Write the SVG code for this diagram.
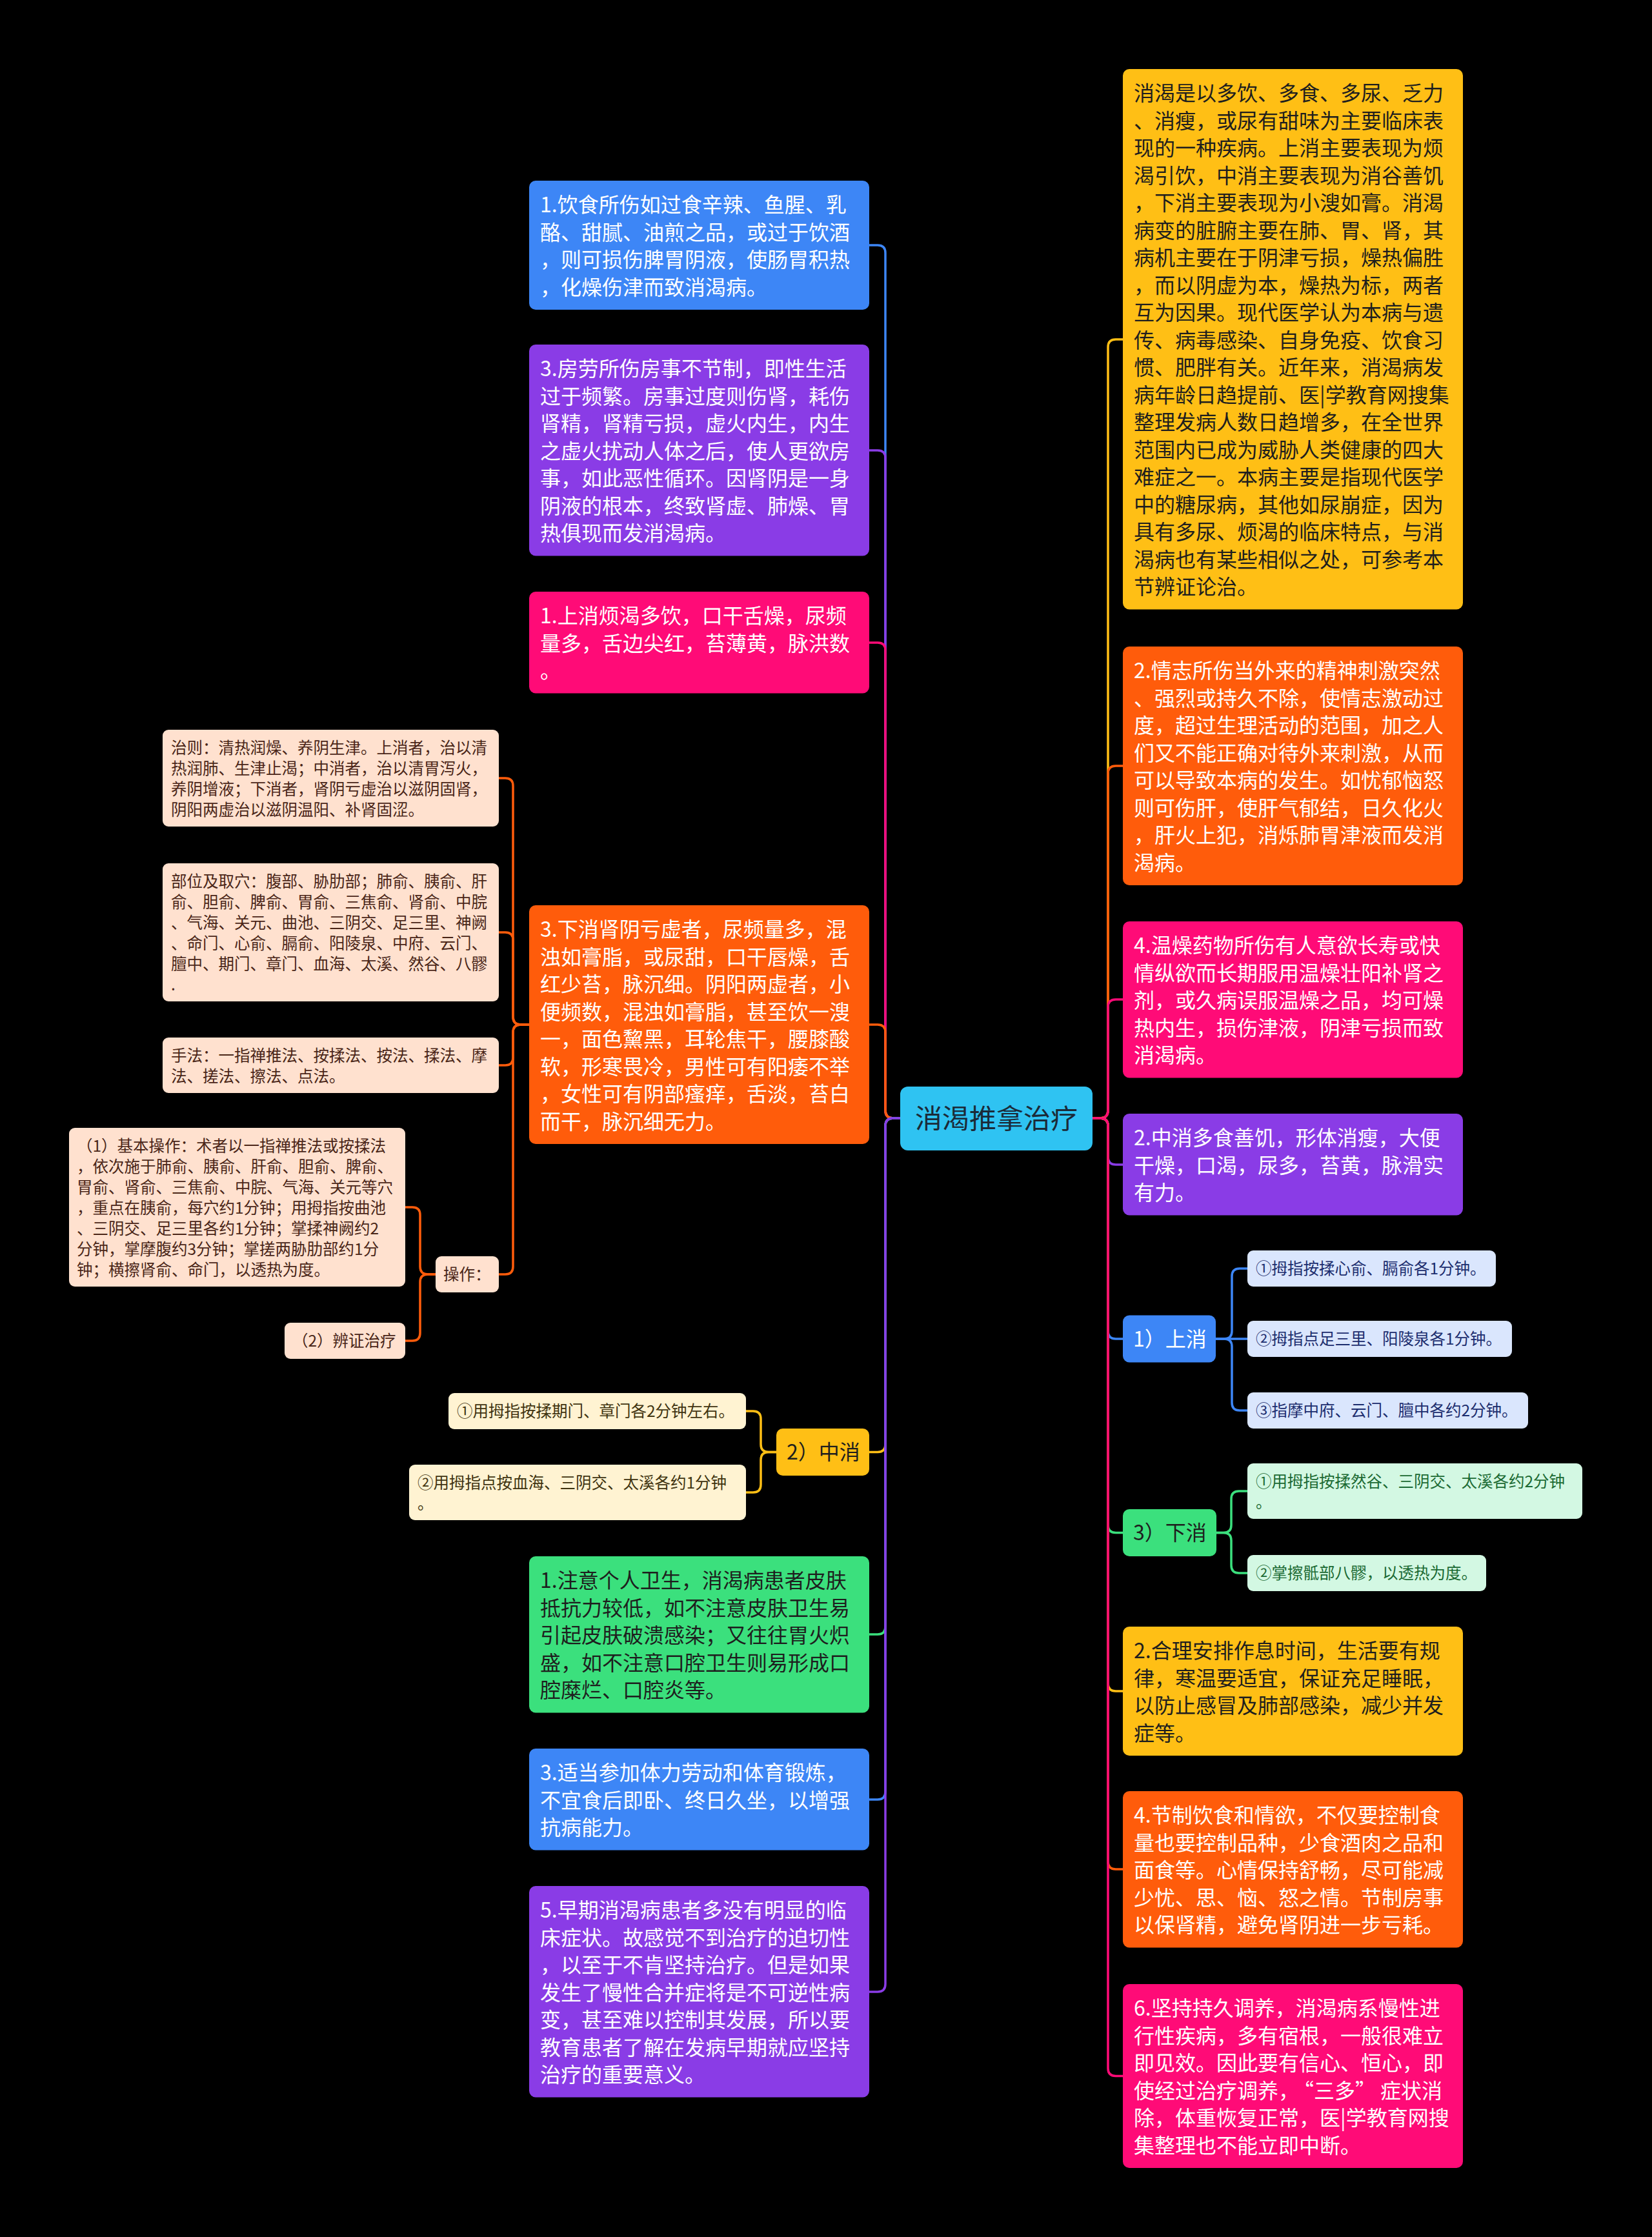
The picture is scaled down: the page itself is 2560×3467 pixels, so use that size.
<svg xmlns="http://www.w3.org/2000/svg" width="2560" height="3467" viewBox="0 0 2560 3467">
<style>
text{font-family:"Noto Sans CJK SC","Noto Sans",sans-serif}
.b{font-size:32px}
.s{font-size:24.5px}
.w{fill:#ffffff}
.d{fill:#1e1e1e}
.pk{fill:#4a2618}
.cr{fill:#3f3410}
.lb{fill:#1c2d6e}
.lg{fill:#1b6a33}
.c{fill:none;stroke-width:3.5;stroke-linecap:round;stroke-linejoin:round}
</style>
<rect width="2560" height="3467" fill="#000000"/>
<g id="connectors">
<path class="c" stroke="#3D86F6" d="M1395 1733H1384Q1372 1733 1372 1721V392Q1372 380 1360 380H1347"/>
<path class="c" stroke="#8A3CE6" d="M1395 1733H1384Q1372 1733 1372 1721V710Q1372 698 1360 698H1347"/>
<path class="c" stroke="#FF0B77" d="M1395 1733H1384Q1372 1733 1372 1721V1008Q1372 996 1360 996H1347"/>
<path class="c" stroke="#FF5C0B" d="M1395 1733H1384Q1372 1733 1372 1721V1600Q1372 1588 1360 1588H1347"/>
<path class="c" stroke="#FFBF15" d="M1395 1733H1384Q1372 1733 1372 1745V2238.5Q1372 2250.5 1360 2250.5H1347"/>
<path class="c" stroke="#3BE07D" d="M1395 1733H1384Q1372 1733 1372 1745V2521Q1372 2533 1360 2533H1347"/>
<path class="c" stroke="#3D86F6" d="M1395 1733H1384Q1372 1733 1372 1745V2777Q1372 2789 1360 2789H1347"/>
<path class="c" stroke="#8A3CE6" d="M1395 1733H1384Q1372 1733 1372 1745V3075Q1372 3087 1360 3087H1347"/>
<path class="c" stroke="#FFBF15" d="M1693 1733H1705Q1717 1733 1717 1721V538Q1717 526 1729 526H1740"/>
<path class="c" stroke="#FF5C0B" d="M1693 1733H1705Q1717 1733 1717 1721V1199Q1717 1187 1729 1187H1740"/>
<path class="c" stroke="#FF0B77" d="M1693 1733H1705Q1717 1733 1717 1721V1561Q1717 1549 1729 1549H1740"/>
<path class="c" stroke="#8A3CE6" d="M1693 1733H1705Q1717 1733 1717 1745V1793Q1717 1805 1729 1805H1740"/>
<path class="c" stroke="#3D86F6" d="M1693 1733H1705Q1717 1733 1717 1745V2063Q1717 2075 1729 2075H1740"/>
<path class="c" stroke="#3BE07D" d="M1693 1733H1705Q1717 1733 1717 1745V2363.5Q1717 2375.5 1729 2375.5H1740"/>
<path class="c" stroke="#FFBF15" d="M1693 1733H1705Q1717 1733 1717 1745V2609Q1717 2621 1729 2621H1740"/>
<path class="c" stroke="#FF5C0B" d="M1693 1733H1705Q1717 1733 1717 1745V2885Q1717 2897 1729 2897H1740"/>
<path class="c" stroke="#FF0B77" d="M1693 1733H1705Q1717 1733 1717 1745V3205.5Q1717 3217.5 1729 3217.5H1740"/>
<path class="c" stroke="#FF5C0B" d="M820 1588H807Q795 1588 795 1576V1218Q795 1206 783 1206H773"/>
<path class="c" stroke="#FF5C0B" d="M820 1588H807Q795 1588 795 1576V1457Q795 1445 783 1445H773"/>
<path class="c" stroke="#FF5C0B" d="M820 1588H807Q795 1588 795 1600V1639Q795 1651 783 1651H773"/>
<path class="c" stroke="#FF5C0B" d="M820 1588H807Q795 1588 795 1600V1963Q795 1975 783 1975H773"/>
<path class="c" stroke="#FF5C0B" d="M675 1975H663Q651 1975 651 1963V1883Q651 1871 639 1871H628"/>
<path class="c" stroke="#FF5C0B" d="M675 1975H663Q651 1975 651 1987V2066Q651 2078 639 2078H628"/>
<path class="c" stroke="#FFBF15" d="M1203 2250.5H1191Q1179 2250.5 1179 2238.5V2199Q1179 2187 1167 2187H1156"/>
<path class="c" stroke="#FFBF15" d="M1203 2250.5H1191Q1179 2250.5 1179 2262.5V2301Q1179 2313 1167 2313H1156"/>
<path class="c" stroke="#3D86F6" d="M1884 2075H1897Q1909 2075 1909 2063V1978Q1909 1966 1921 1966H1933"/>
<path class="c" stroke="#3D86F6" d="M1884 2075H1933"/>
<path class="c" stroke="#3D86F6" d="M1884 2075H1897Q1909 2075 1909 2087V2174Q1909 2186 1921 2186H1933"/>
<path class="c" stroke="#3BE07D" d="M1885 2375.5H1896Q1908 2375.5 1908 2363.5V2323Q1908 2311 1920 2311H1933"/>
<path class="c" stroke="#3BE07D" d="M1885 2375.5H1896Q1908 2375.5 1908 2387.5V2426Q1908 2438 1920 2438H1933"/>
</g>
<g id="root">
<rect x="1395" y="1684" width="298" height="99" rx="12" fill="#2FC3F2"/>
<text x="1544" y="1749" text-anchor="middle" font-size="42" fill="#1b2a38">消渴推拿治疗</text>
</g>
<g id="L1">
<rect x="820" y="280" width="527" height="200" rx="10" fill="#3D86F6"/>
<text class="b w" x="837" y="329"><tspan x="837">1.饮食所伤如过食辛辣、鱼腥、乳</tspan><tspan x="837" dy="42.5">酪、甜腻、油煎之品，或过于饮酒</tspan><tspan x="837" dy="42.5">，则可损伤脾胃阴液，使肠胃积热</tspan><tspan x="837" dy="42.5">，化燥伤津而致消渴病。</tspan></text>
</g>
<g id="L2">
<rect x="820" y="534" width="527" height="327.5" rx="10" fill="#8A3CE6"/>
<text class="b w" x="837" y="583"><tspan x="837">3.房劳所伤房事不节制，即性生活</tspan><tspan x="837" dy="42.5">过于频繁。房事过度则伤肾，耗伤</tspan><tspan x="837" dy="42.5">肾精，肾精亏损，虚火内生，内生</tspan><tspan x="837" dy="42.5">之虚火扰动人体之后，使人更欲房</tspan><tspan x="837" dy="42.5">事，如此恶性循环。因肾阴是一身</tspan><tspan x="837" dy="42.5">阴液的根本，终致肾虚、肺燥、胃</tspan><tspan x="837" dy="42.5">热俱现而发消渴病。</tspan></text>
</g>
<g id="L3">
<rect x="820" y="917" width="527" height="157.5" rx="10" fill="#FF0B77"/>
<text class="b w" x="837" y="966"><tspan x="837">1.上消烦渴多饮，口干舌燥，尿频</tspan><tspan x="837" dy="42.5">量多，舌边尖红，苔薄黄，脉洪数</tspan><tspan x="837" dy="42.5">。</tspan></text>
</g>
<g id="L4">
<rect x="820" y="1403" width="527" height="370" rx="10" fill="#FF5C0B"/>
<text class="b w" x="837" y="1452"><tspan x="837">3.下消肾阴亏虚者，尿频量多，混</tspan><tspan x="837" dy="42.5">浊如膏脂，或尿甜，口干唇燥，舌</tspan><tspan x="837" dy="42.5">红少苔，脉沉细。阴阳两虚者，小</tspan><tspan x="837" dy="42.5">便频数，混浊如膏脂，甚至饮一溲</tspan><tspan x="837" dy="42.5">一，面色黧黑，耳轮焦干，腰膝酸</tspan><tspan x="837" dy="42.5">软，形寒畏冷，男性可有阳痿不举</tspan><tspan x="837" dy="42.5">，女性可有阴部瘙痒，舌淡，苔白</tspan><tspan x="837" dy="42.5">而干，脉沉细无力。</tspan></text>
</g>
<g id="L4a">
<rect x="252" y="1131" width="521" height="150" rx="9" fill="#FFE1CF"/>
<text class="s pk" x="265" y="1168"><tspan x="265">治则：清热润燥、养阴生津。上消者，治以清</tspan><tspan x="265" dy="32">热润肺、生津止渴；中消者，治以清胃泻火，</tspan><tspan x="265" dy="32">养阴增液；下消者，肾阴亏虚治以滋阴固肾，</tspan><tspan x="265" dy="32">阴阳两虚治以滋阴温阳、补肾固涩。</tspan></text>
</g>
<g id="L4b">
<rect x="252" y="1338" width="521" height="214" rx="9" fill="#FFE1CF"/>
<text class="s pk" x="265" y="1375"><tspan x="265">部位及取穴：腹部、胁肋部；肺俞、胰俞、肝</tspan><tspan x="265" dy="32">俞、胆俞、脾俞、胃俞、三焦俞、肾俞、中脘</tspan><tspan x="265" dy="32">、气海、关元、曲池、三阴交、足三里、神阙</tspan><tspan x="265" dy="32">、命门、心俞、膈俞、阳陵泉、中府、云门、</tspan><tspan x="265" dy="32">膻中、期门、章门、血海、太溪、然谷、八髎</tspan><tspan x="265" dy="32">.</tspan></text>
</g>
<g id="L4c">
<rect x="252" y="1608" width="521" height="86" rx="9" fill="#FFE1CF"/>
<text class="s pk" x="265" y="1645"><tspan x="265">手法：一指禅推法、按揉法、按法、揉法、摩</tspan><tspan x="265" dy="32">法、搓法、擦法、点法。</tspan></text>
</g>
<g id="L4d">
<rect x="675" y="1947" width="98" height="56" rx="9" fill="#FFE1CF"/>
<text class="s pk" x="687" y="1984">操作：</text>
</g>
<g id="L4d1">
<rect x="107" y="1748" width="521" height="246" rx="9" fill="#FFE1CF"/>
<text class="s pk" x="119" y="1785"><tspan x="119">（1）基本操作：术者以一指禅推法或按揉法</tspan><tspan x="119" dy="32">，依次施于肺俞、胰俞、肝俞、胆俞、脾俞、</tspan><tspan x="119" dy="32">胃俞、肾俞、三焦俞、中脘、气海、关元等穴</tspan><tspan x="119" dy="32">，重点在胰俞，每穴约1分钟；用拇指按曲池</tspan><tspan x="119" dy="32">、三阴交、足三里各约1分钟；掌揉神阙约2</tspan><tspan x="119" dy="32">分钟，掌摩腹约3分钟；掌搓两胁肋部约1分</tspan><tspan x="119" dy="32">钟；横擦肾俞、命门，以透热为度。</tspan></text>
</g>
<g id="L4d2">
<rect x="441" y="2050" width="187" height="56" rx="9" fill="#FFE1CF"/>
<text class="s pk" x="453" y="2087">（2）辨证治疗</text>
</g>
<g id="M1">
<rect x="1203" y="2214" width="144" height="73" rx="10" fill="#FFBF15"/>
<text class="b d" x="1219" y="2262">2）中消</text>
</g>
<g id="M1a">
<rect x="695" y="2159" width="461" height="56" rx="9" fill="#FFF3D2"/>
<text class="s cr" x="708" y="2196">①用拇指按揉期门、章门各2分钟左右。</text>
</g>
<g id="M1b">
<rect x="634" y="2270" width="522" height="86" rx="9" fill="#FFF3D2"/>
<text class="s cr" x="647" y="2307"><tspan x="647">②用拇指点按血海、三阴交、太溪各约1分钟</tspan><tspan x="647" dy="32">。</tspan></text>
</g>
<g id="L5">
<rect x="820" y="2412" width="527" height="242.5" rx="10" fill="#3BE07D"/>
<text class="b d" x="837" y="2461"><tspan x="837">1.注意个人卫生，消渴病患者皮肤</tspan><tspan x="837" dy="42.5">抵抗力较低，如不注意皮肤卫生易</tspan><tspan x="837" dy="42.5">引起皮肤破溃感染；又往往胃火炽</tspan><tspan x="837" dy="42.5">盛，如不注意口腔卫生则易形成口</tspan><tspan x="837" dy="42.5">腔糜烂、口腔炎等。</tspan></text>
</g>
<g id="L6">
<rect x="820" y="2710" width="527" height="157.5" rx="10" fill="#3D86F6"/>
<text class="b w" x="837" y="2759"><tspan x="837">3.适当参加体力劳动和体育锻炼，</tspan><tspan x="837" dy="42.5">不宜食后即卧、终日久坐，以增强</tspan><tspan x="837" dy="42.5">抗病能力。</tspan></text>
</g>
<g id="L7">
<rect x="820" y="2923" width="527" height="327.5" rx="10" fill="#8A3CE6"/>
<text class="b w" x="837" y="2972"><tspan x="837">5.早期消渴病患者多没有明显的临</tspan><tspan x="837" dy="42.5">床症状。故感觉不到治疗的迫切性</tspan><tspan x="837" dy="42.5">，以至于不肯坚持治疗。但是如果</tspan><tspan x="837" dy="42.5">发生了慢性合并症将是不可逆性病</tspan><tspan x="837" dy="42.5">变，甚至难以控制其发展，所以要</tspan><tspan x="837" dy="42.5">教育患者了解在发病早期就应坚持</tspan><tspan x="837" dy="42.5">治疗的重要意义。</tspan></text>
</g>
<g id="R1">
<rect x="1740" y="107" width="527" height="837.5" rx="10" fill="#FFBF15"/>
<text class="b d" x="1757" y="156"><tspan x="1757">消渴是以多饮、多食、多尿、乏力</tspan><tspan x="1757" dy="42.5">、消瘦，或尿有甜味为主要临床表</tspan><tspan x="1757" dy="42.5">现的一种疾病。上消主要表现为烦</tspan><tspan x="1757" dy="42.5">渴引饮，中消主要表现为消谷善饥</tspan><tspan x="1757" dy="42.5">，下消主要表现为小溲如膏。消渴</tspan><tspan x="1757" dy="42.5">病变的脏腑主要在肺、胃、肾，其</tspan><tspan x="1757" dy="42.5">病机主要在于阴津亏损，燥热偏胜</tspan><tspan x="1757" dy="42.5">，而以阴虚为本，燥热为标，两者</tspan><tspan x="1757" dy="42.5">互为因果。现代医学认为本病与遗</tspan><tspan x="1757" dy="42.5">传、病毒感染、自身免疫、饮食习</tspan><tspan x="1757" dy="42.5">惯、肥胖有关。近年来，消渴病发</tspan><tspan x="1757" dy="42.5">病年龄日趋提前、医|学教育网搜集</tspan><tspan x="1757" dy="42.5">整理发病人数日趋增多，在全世界</tspan><tspan x="1757" dy="42.5">范围内已成为威胁人类健康的四大</tspan><tspan x="1757" dy="42.5">难症之一。本病主要是指现代医学</tspan><tspan x="1757" dy="42.5">中的糖尿病，其他如尿崩症，因为</tspan><tspan x="1757" dy="42.5">具有多尿、烦渴的临床特点，与消</tspan><tspan x="1757" dy="42.5">渴病也有某些相似之处，可参考本</tspan><tspan x="1757" dy="42.5">节辨证论治。</tspan></text>
</g>
<g id="R2">
<rect x="1740" y="1002" width="527" height="370" rx="10" fill="#FF5C0B"/>
<text class="b w" x="1757" y="1051"><tspan x="1757">2.情志所伤当外来的精神刺激突然</tspan><tspan x="1757" dy="42.5">、强烈或持久不除，使情志激动过</tspan><tspan x="1757" dy="42.5">度，超过生理活动的范围，加之人</tspan><tspan x="1757" dy="42.5">们又不能正确对待外来刺激，从而</tspan><tspan x="1757" dy="42.5">可以导致本病的发生。如忧郁恼怒</tspan><tspan x="1757" dy="42.5">则可伤肝，使肝气郁结，日久化火</tspan><tspan x="1757" dy="42.5">，肝火上犯，消烁肺胃津液而发消</tspan><tspan x="1757" dy="42.5">渴病。</tspan></text>
</g>
<g id="R3">
<rect x="1740" y="1428" width="527" height="242.5" rx="10" fill="#FF0B77"/>
<text class="b w" x="1757" y="1477"><tspan x="1757">4.温燥药物所伤有人意欲长寿或快</tspan><tspan x="1757" dy="42.5">情纵欲而长期服用温燥壮阳补肾之</tspan><tspan x="1757" dy="42.5">剂，或久病误服温燥之品，均可燥</tspan><tspan x="1757" dy="42.5">热内生，损伤津液，阴津亏损而致</tspan><tspan x="1757" dy="42.5">消渴病。</tspan></text>
</g>
<g id="R4">
<rect x="1740" y="1726" width="527" height="157.5" rx="10" fill="#8A3CE6"/>
<text class="b w" x="1757" y="1775"><tspan x="1757">2.中消多食善饥，形体消瘦，大便</tspan><tspan x="1757" dy="42.5">干燥，口渴，尿多，苔黄，脉滑实</tspan><tspan x="1757" dy="42.5">有力。</tspan></text>
</g>
<g id="R5">
<rect x="1740" y="2038.5" width="144" height="73" rx="10" fill="#3D86F6"/>
<text class="b w" x="1756" y="2087">1）上消</text>
</g>
<g id="R5a">
<rect x="1933" y="1938" width="385" height="56" rx="9" fill="#DAE6FD"/>
<text class="s lb" x="1946" y="1975">①拇指按揉心俞、膈俞各1分钟。</text>
</g>
<g id="R5b">
<rect x="1933" y="2047" width="410" height="56" rx="9" fill="#DAE6FD"/>
<text class="s lb" x="1946" y="2084">②拇指点足三里、阳陵泉各1分钟。</text>
</g>
<g id="R5c">
<rect x="1933" y="2158" width="435" height="56" rx="9" fill="#DAE6FD"/>
<text class="s lb" x="1946" y="2195">③指摩中府、云门、膻中各约2分钟。</text>
</g>
<g id="R6">
<rect x="1740" y="2339" width="145" height="73" rx="10" fill="#3BE07D"/>
<text class="b d" x="1756" y="2387">3）下消</text>
</g>
<g id="R6a">
<rect x="1933" y="2268" width="519" height="86" rx="9" fill="#D3F8E3"/>
<text class="s lg" x="1946" y="2305"><tspan x="1946">①用拇指按揉然谷、三阴交、太溪各约2分钟</tspan><tspan x="1946" dy="32">。</tspan></text>
</g>
<g id="R6b">
<rect x="1933" y="2410" width="370" height="56" rx="9" fill="#D3F8E3"/>
<text class="s lg" x="1946" y="2447">②掌擦骶部八髎，以透热为度。</text>
</g>
<g id="R7">
<rect x="1740" y="2521" width="527" height="200" rx="10" fill="#FFBF15"/>
<text class="b d" x="1757" y="2570"><tspan x="1757">2.合理安排作息时间，生活要有规</tspan><tspan x="1757" dy="42.5">律，寒温要适宜，保证充足睡眠，</tspan><tspan x="1757" dy="42.5">以防止感冒及肺部感染，减少并发</tspan><tspan x="1757" dy="42.5">症等。</tspan></text>
</g>
<g id="R8">
<rect x="1740" y="2776" width="527" height="242.5" rx="10" fill="#FF5C0B"/>
<text class="b w" x="1757" y="2825"><tspan x="1757">4.节制饮食和情欲，不仅要控制食</tspan><tspan x="1757" dy="42.5">量也要控制品种，少食酒肉之品和</tspan><tspan x="1757" dy="42.5">面食等。心情保持舒畅，尽可能减</tspan><tspan x="1757" dy="42.5">少忧、思、恼、怒之情。节制房事</tspan><tspan x="1757" dy="42.5">以保肾精，避免肾阴进一步亏耗。</tspan></text>
</g>
<g id="R9">
<rect x="1740" y="3075" width="527" height="285" rx="10" fill="#FF0B77"/>
<text class="b w" x="1757" y="3124"><tspan x="1757">6.坚持持久调养，消渴病系慢性进</tspan><tspan x="1757" dy="42.5">行性疾病，多有宿根，一般很难立</tspan><tspan x="1757" dy="42.5">即见效。因此要有信心、恒心，即</tspan><tspan x="1757" dy="42.5">使经过治疗调养，</tspan><tspan dx="7">“</tspan><tspan>三多”</tspan><tspan dx="7">症状消</tspan><tspan x="1757" dy="42.5">除，体重恢复正常，医|学教育网搜</tspan><tspan x="1757" dy="42.5">集整理也不能立即中断。</tspan></text>
</g>
</svg>
